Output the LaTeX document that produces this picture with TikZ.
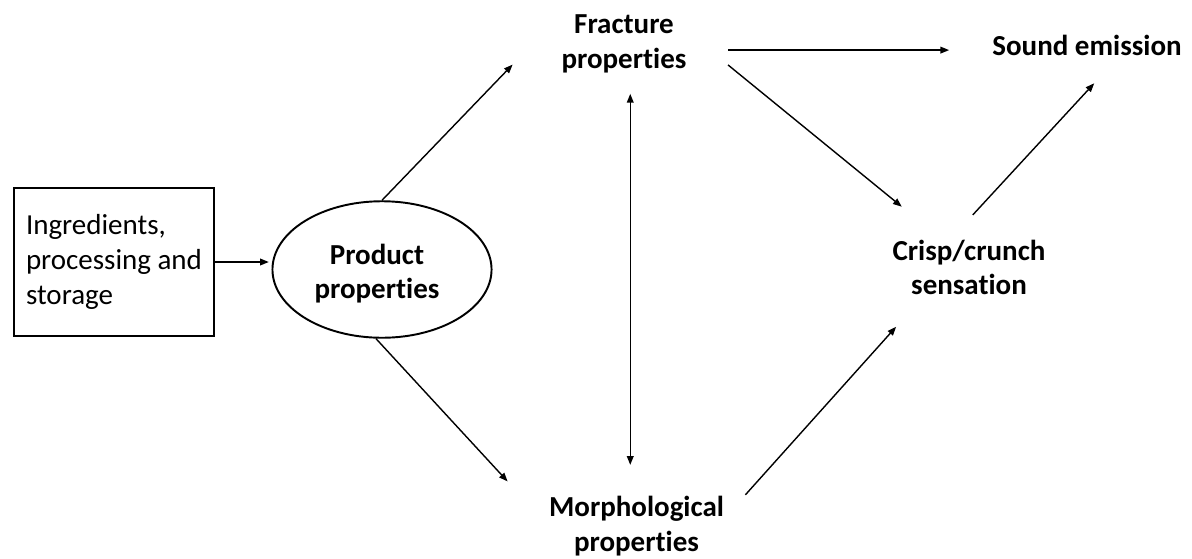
\documentclass[tikz,border=0pt]{standalone}
\usepackage{fontspec}
\setmainfont[Ligatures=NoCommon]{Carlito}
\usetikzlibrary{arrows.meta,positioning,shapes.geometric,calc}

\begin{document}
\begin{tikzpicture}[x=0.02cm,y=-0.02cm,>={Triangle[length=5pt,width=3.8pt]},
 every node/.style={font=\fontsize{16.5}{19.8}\selectfont,inner sep=0pt,align=center},
 lbl/.style={font=\fontsize{16.5}{19.8}\selectfont\bfseries},
 conn/.style={line width=0.8pt}]
\useasboundingbox (0,0) rectangle (1192,558);
\node[draw,line width=1.1pt,minimum width=114pt,minimum height=83.9pt,align=left] (inp) at (114,262) {Ingredients,\\processing and\\storage};
\node[ellipse,draw,line width=1.1pt,minimum width=124.7pt,minimum height=77.7pt] (prod) at (382,269.5) {};
\node[lbl] (prodtxt) at (377,273.5) {Product\\properties};
\node[lbl] (frac) at (624,43.5) {Fracture\\properties};
\node[lbl] (morph) at (636.5,526) {Morphological\\properties};
\node[lbl] (crisp) at (969,267.5) {Crisp/crunch\\sensation};
\node[lbl] (sound) at (1087,45) {Sound emission};
% links
\draw[conn,->,shorten >=1.5pt] (inp.east) -- (inp.east -| prod.west);
\draw[conn,->,shorten >=39.9pt] (prod.north) -- (frac.north west);
\draw[conn,->,shorten >=34.5pt] (prod.265) -- (morph.west);
\coordinate (mid) at ($(frac.south)!.5!(morph.north)$);
\draw[conn,<->,shorten <=11.9pt,shorten >=17.6pt] (frac.south -| mid) -- (morph.north -| mid);
\draw[conn,->,shorten <=23.5pt,shorten >=24.4pt] (frac.-6) -- (frac.-6 -| sound.west);
\draw[conn,->,shorten <=30.3pt,shorten >=29.5pt] (frac.11) -- (crisp.134);
\draw[conn,->,shorten <=19pt,shorten >=21.4pt] (crisp.124) -- (sound.-18);
\draw[conn,->,shorten <=18pt,shorten >=23.9pt] (morph.5) -- (crisp.212);
\end{tikzpicture}
\end{document}
